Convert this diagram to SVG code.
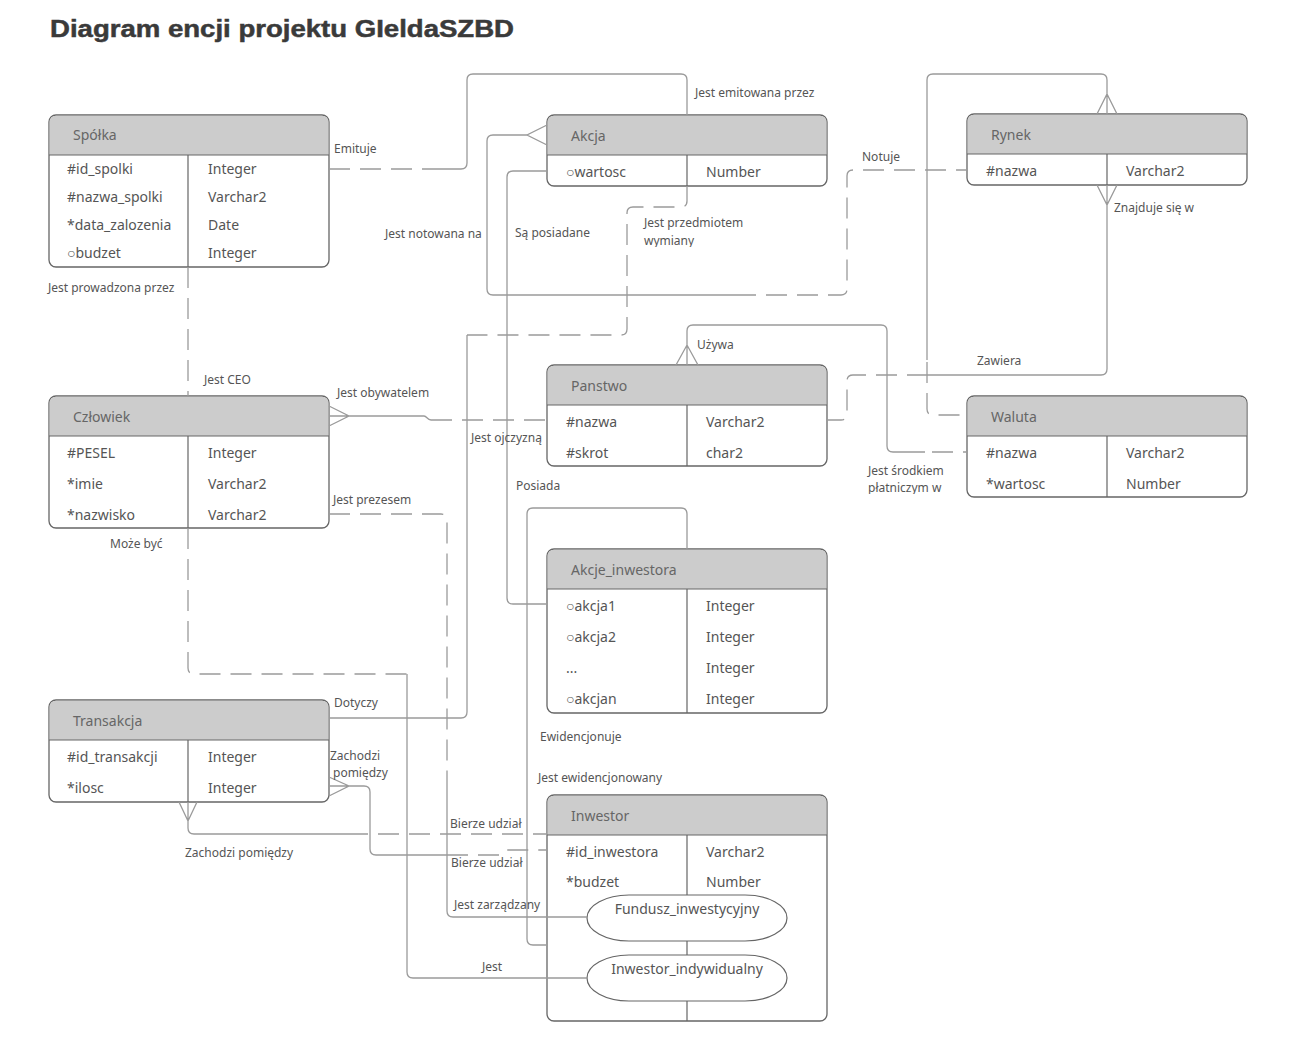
<svg xmlns="http://www.w3.org/2000/svg" width="1291" height="1053" viewBox="0 0 1291 1053">
<style>
.box{fill:#fff;stroke:#666;stroke-width:1.3}
.hdr{fill:#cccccc;stroke:none}
.sep{stroke:#666;stroke-width:1.2;fill:none}
.ht{font-family:"Noto Sans","Open Sans",sans-serif;font-size:14px;fill:#666}
.at{font-family:"Noto Sans","Open Sans",sans-serif;font-size:14px;fill:#555}
.lb{font-family:"Noto Sans","Open Sans",sans-serif;font-size:12px;fill:#555}
.s{fill:none;stroke:#9a9a9a;stroke-width:1.3}
.d{fill:none;stroke:#9a9a9a;stroke-width:1.3;stroke-dasharray:21 10}
.ov{fill:#fff;stroke:#666;stroke-width:1.2}
</style>
<defs>
<clipPath id="c1"><rect x="600" y="200" width="200" height="46"/></clipPath>
<clipPath id="c2"><rect x="850" y="460" width="110" height="33"/></clipPath>
</defs>
<rect width="1291" height="1053" fill="#fff"/>
<text x="50" y="37" font-family="'Liberation Sans',Arial,sans-serif" font-weight="bold" font-size="24" fill="#3a3a3a" textLength="464" lengthAdjust="spacingAndGlyphs" stroke="#3a3a3a" stroke-width="0.5">Diagram encji projektu GIeldaSZBD</text>

<g id="spolka">
<rect class="box" x="49" y="115" width="280" height="152" rx="7"/>
<path class="hdr" d="M56,115.7 H322 Q328.3,115.7 328.3,122 V155 H49.7 V122 Q49.7,115.7 56,115.7Z"/>
<path class="sep" d="M49,155 H329 M188,155 V267"/>
<text class="ht" x="73" y="140">Spółka</text>
<text class="at" x="67" y="174">#id_spolki</text><text class="at" x="208" y="174">Integer</text>
<text class="at" x="67" y="202">#nazwa_spolki</text><text class="at" x="208" y="202">Varchar2</text>
<text class="at" x="67" y="230">*data_zalozenia</text><text class="at" x="208" y="230">Date</text>
<text class="at" x="67" y="258">○budzet</text><text class="at" x="208" y="258">Integer</text>
</g>

<g id="akcja">
<rect class="box" x="547" y="115" width="280" height="71" rx="7"/>
<path class="hdr" d="M554,115.7 H820 Q826.3,115.7 826.3,122 V155 H547.7 V122 Q547.7,115.7 554,115.7Z"/>
<path class="sep" d="M547,155 H827 M687,155 V186"/>
<text class="ht" x="571" y="141">Akcja</text>
<text class="at" x="566" y="177">○wartosc</text><text class="at" x="706" y="177">Number</text>
</g>

<g id="rynek">
<rect class="box" x="967" y="114" width="280" height="71" rx="7"/>
<path class="hdr" d="M974,114.7 H1240 Q1246.3,114.7 1246.3,121 V154 H967.7 V121 Q967.7,114.7 974,114.7Z"/>
<path class="sep" d="M967,154 H1247 M1107,154 V185"/>
<text class="ht" x="991" y="140">Rynek</text>
<text class="at" x="986" y="176">#nazwa</text><text class="at" x="1126" y="176">Varchar2</text>
</g>

<g id="czlowiek">
<rect class="box" x="49" y="396" width="280" height="132" rx="7"/>
<path class="hdr" d="M56,396.7 H322 Q328.3,396.7 328.3,403 V436 H49.7 V403 Q49.7,396.7 56,396.7Z"/>
<path class="sep" d="M49,436 H329 M188,436 V528"/>
<text class="ht" x="73" y="422">Człowiek</text>
<text class="at" x="67" y="458">#PESEL</text><text class="at" x="208" y="458">Integer</text>
<text class="at" x="67" y="489">*imie</text><text class="at" x="208" y="489">Varchar2</text>
<text class="at" x="67" y="520">*nazwisko</text><text class="at" x="208" y="520">Varchar2</text>
</g>

<g id="panstwo">
<rect class="box" x="547" y="365" width="280" height="101" rx="7"/>
<path class="hdr" d="M554,365.7 H820 Q826.3,365.7 826.3,372 V405 H547.7 V372 Q547.7,365.7 554,365.7Z"/>
<path class="sep" d="M547,405 H827 M687,405 V466"/>
<text class="ht" x="571" y="391">Panstwo</text>
<text class="at" x="566" y="427">#nazwa</text><text class="at" x="706" y="427">Varchar2</text>
<text class="at" x="566" y="458">#skrot</text><text class="at" x="706" y="458">char2</text>
</g>

<g id="waluta">
<rect class="box" x="967" y="396" width="280" height="101" rx="7"/>
<path class="hdr" d="M974,396.7 H1240 Q1246.3,396.7 1246.3,403 V436 H967.7 V403 Q967.7,396.7 974,396.7Z"/>
<path class="sep" d="M967,436 H1247 M1107,436 V497"/>
<text class="ht" x="991" y="422">Waluta</text>
<text class="at" x="986" y="458">#nazwa</text><text class="at" x="1126" y="458">Varchar2</text>
<text class="at" x="986" y="489">*wartosc</text><text class="at" x="1126" y="489">Number</text>
</g>

<g id="akcje_inwestora">
<rect class="box" x="547" y="549" width="280" height="164" rx="7"/>
<path class="hdr" d="M554,549.7 H820 Q826.3,549.7 826.3,556 V589 H547.7 V556 Q547.7,549.7 554,549.7Z"/>
<path class="sep" d="M547,589 H827 M687,589 V713"/>
<text class="ht" x="571" y="575">Akcje_inwestora</text>
<text class="at" x="566" y="611">○akcja1</text><text class="at" x="706" y="611">Integer</text>
<text class="at" x="566" y="642">○akcja2</text><text class="at" x="706" y="642">Integer</text>
<text class="at" x="566" y="673">...</text><text class="at" x="706" y="673">Integer</text>
<text class="at" x="566" y="704">○akcjan</text><text class="at" x="706" y="704">Integer</text>
</g>

<g id="transakcja">
<rect class="box" x="49" y="700" width="280" height="102" rx="7"/>
<path class="hdr" d="M56,700.7 H322 Q328.3,700.7 328.3,707 V740 H49.7 V707 Q49.7,700.7 56,700.7Z"/>
<path class="sep" d="M49,740 H329 M188,740 V802"/>
<text class="ht" x="73" y="726">Transakcja</text>
<text class="at" x="67" y="762">#id_transakcji</text><text class="at" x="208" y="762">Integer</text>
<text class="at" x="67" y="793">*ilosc</text><text class="at" x="208" y="793">Integer</text>
</g>

<g id="inwestor">
<rect class="box" x="547" y="795" width="280" height="226" rx="7"/>
<path class="hdr" d="M554,795.7 H820 Q826.3,795.7 826.3,802 V835 H547.7 V802 Q547.7,795.7 554,795.7Z"/>
<path class="sep" d="M547,835 H827 M687,835 V1021"/>
<text class="ht" x="571" y="821">Inwestor</text>
<text class="at" x="566" y="857">#id_inwestora</text><text class="at" x="706" y="857">Varchar2</text>
<text class="at" x="566" y="887">*budzet</text><text class="at" x="706" y="887">Number</text>
<g id="fundusz_inwestycyjny">
<rect class="ov" x="587" y="895" width="200" height="46" rx="42" ry="23"/>
<text class="at" x="687" y="914" text-anchor="middle">Fundusz_inwestycyjny</text>
</g>
<g id="inwestor_indywidualny">
<rect class="ov" x="587" y="955" width="200" height="46" rx="42" ry="23"/>
<text class="at" x="687" y="974" text-anchor="middle">Inwestor_indywidualny</text>
</g>
</g>

<g id="connectors">
<path class="d" d="M329,169 H427"/>
<path class="s" d="M427,169 H461 Q467,169 467,163 V80 Q467,74 473,74 H681 Q687,74 687,80 V115"/>
<path class="s" d="M547,125 L527,135 L547,145 M527,135 H493 Q487,135 487,141 V289 Q487,295 493,295 H735"/>
<path class="d" d="M735,295 H841 Q847,295 847,289 V176 Q847,170 853,170 H967"/>
<path class="s" d="M547,171 H513 Q507,171 507,177 V598 Q507,604 513,604 H547"/>
<path class="d" d="M687,186 V201 Q687,207 681,207 H633 Q627,207 627,213 V329 Q627,335 621,335 H467"/>
<path class="s" d="M467,335 V712 Q467,718 461,718 H329"/>
<path class="s" d="M1097,185 L1107,205 L1117,185 M1107,185 V369 Q1107,375 1101,375 H928"/>
<path class="d" d="M928,375 H853 Q847,375 847,381 V414 Q847,420 841,420 H827"/>
<path class="s" d="M1097,114 L1107,94 L1117,114 M1107,114 V80 Q1107,74 1101,74 H933 Q927,74 927,80 V360"/>
<path class="d" d="M927,362 V409 Q927,415 933,415 H967"/>
<path class="s" d="M676,365 L687,345 L698,365 M687,365 V331 Q687,325 693,325 H881 Q887,325 887,331 V446 Q887,452 893,452 H925"/>
<path class="d" d="M932,452 H967"/>
<path class="d" d="M188,267 V396"/>
<path class="s" d="M329,406 L349,416 L329,426 M329,416 H424 C427,416 427,420 431,420"/>
<path class="d" d="M431,420 H547"/>
<path class="d" d="M188,528 V668 Q188,674 194,674 H407"/>
<path class="s" d="M407,674 V972 Q407,978 413,978 H587"/>
<path class="d" d="M329,514 H441 Q447,514 447,520 V775"/>
<path class="s" d="M447,775 V911 Q447,917 453,917 H587"/>
<path class="s" d="M329,777 L349,786 L329,796 M329,786 H364 Q370,786 370,792 V849 Q370,855 376,855 H447"/>
<path class="d" d="M447,855 H499 C503,855 503,850 507,850 H547"/>
<path class="s" d="M179,802 L188,821 L197,802 M188,802 V828 Q188,834 194,834 H347"/>
<path class="d" d="M347,834 H547"/>
<path class="s" d="M687,549 V514 Q687,508 681,508 H533 Q527,508 527,514 V939 Q527,945 533,945 H547"/>
</g>

<g id="labels" transform="translate(0,1)">
<text class="lb" x="334" y="152">Emituje</text>
<text class="lb" x="695" y="96">Jest emitowana przez</text>
<text class="lb" x="385" y="237">Jest notowana na</text>
<text class="lb" x="515" y="236">Są posiadane</text>
<g clip-path="url(#c1)">
<text class="lb" x="644" y="226">Jest przedmiotem</text>
<text class="lb" x="644" y="244">wymiany</text>
</g>
<text class="lb" x="862" y="160">Notuje</text>
<text class="lb" x="1114" y="211">Znajduje się w</text>
<text class="lb" x="48" y="291">Jest prowadzona przez</text>
<text class="lb" x="204" y="383">Jest CEO</text>
<text class="lb" x="337" y="396">Jest obywatelem</text>
<text class="lb" x="697" y="348">Używa</text>
<text class="lb" x="977" y="364">Zawiera</text>
<text class="lb" x="471" y="441">Jest ojczyzną</text>
<g clip-path="url(#c2)">
<text class="lb" x="868" y="474">Jest środkiem</text>
<text class="lb" x="868" y="491">płatniczym w</text>
</g>
<text class="lb" x="516" y="489">Posiada</text>
<text class="lb" x="333" y="503">Jest prezesem</text>
<text class="lb" x="110" y="547">Może być</text>
<text class="lb" x="334" y="706">Dotyczy</text>
<text class="lb" x="540" y="740">Ewidencjonuje</text>
<text class="lb" x="330" y="759">Zachodzi</text>
<text class="lb" x="333" y="776">pomiędzy</text>
<text class="lb" x="538" y="781">Jest ewidencjonowany</text>
<text class="lb" x="450" y="827">Bierze udział</text>
<text class="lb" x="185" y="856">Zachodzi pomiędzy</text>
<text class="lb" x="451" y="866">Bierze udział</text>
<text class="lb" x="454" y="908">Jest zarządzany</text>
<text class="lb" x="482" y="970">Jest</text>
</g>
</svg>
